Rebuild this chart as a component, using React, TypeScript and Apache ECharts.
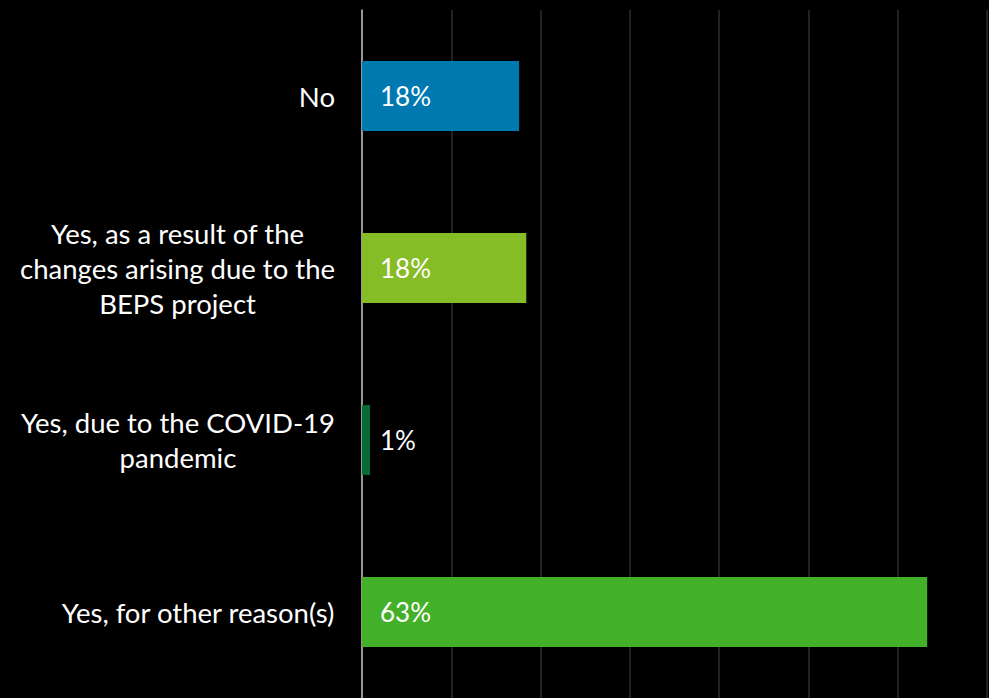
import React, { useEffect, useRef } from "react";
import * as echarts from "echarts";

const categories = [
  "No",
  "Yes, as a result of the\nchanges arising due to the\nBEPS project",
  "Yes, due to the COVID-19\npandemic",
  "Yes, for other reason(s)",
];
const values = [17.6, 18.4, 0.9, 63.3];
const colors = ["#0079B0", "#86BC25", "#046A38", "#43B02A"];
const xTicks = { min: 0, max: 70, interval: 10 };

export default function App() {
  const ref = useRef<HTMLDivElement>(null);
  useEffect(() => {
    const chart = echarts.init(ref.current!, null, { renderer: "svg" });
    const font = "Lato";
    chart.setOption({
      animation: false,
      backgroundColor: "#000000",
      grid: { left: 362, right: 2, top: 10, bottom: -3, containLabel: false },
      xAxis: {
        type: "value",
        min: xTicks.min,
        max: xTicks.max,
        interval: xTicks.interval,
        axisLabel: { show: false },
        axisLine: { show: false },
        axisTick: { show: false },
        splitLine: { show: true, lineStyle: { color: "#2e2e2e", width: 1.5 } },
      },
      yAxis: {
        type: "category",
        inverse: true,
        data: categories,
        axisTick: { show: false },
        axisLine: { show: true, lineStyle: { color: "#bfbfbf", width: 1.5 } },
        axisLabel: {
          margin: 27,
          formatter: (v: string) =>
            v
              .split("\n")
              .map((l) => `{c|${l}}`)
              .join("\n"),
          rich: {
            c: {
              align: "center",
              color: "#ffffff",
              fontSize: 27.5,
              fontFamily: font,
              lineHeight: 35,
            },
          },
        },
      },
      series: [
        {
          type: "bar",
          barWidth: 70,
          data: values.map((v, i) => ({ value: v, itemStyle: { color: colors[i] } })),
          label: {
            show: true,
            position: "insideLeft",
            distance: 18,
            color: "#ffffff",
            fontSize: 26,
            fontFamily: font,
            formatter: (p: any) => `${Math.round(p.value)}%`,
          },
        },
      ],
    });
    return () => chart.dispose();
  }, []);
  return (
    <div
      ref={ref}
      style={{ position: "fixed", left: 0, top: 0, width: 989, height: 698 }}
    />
  );
}
